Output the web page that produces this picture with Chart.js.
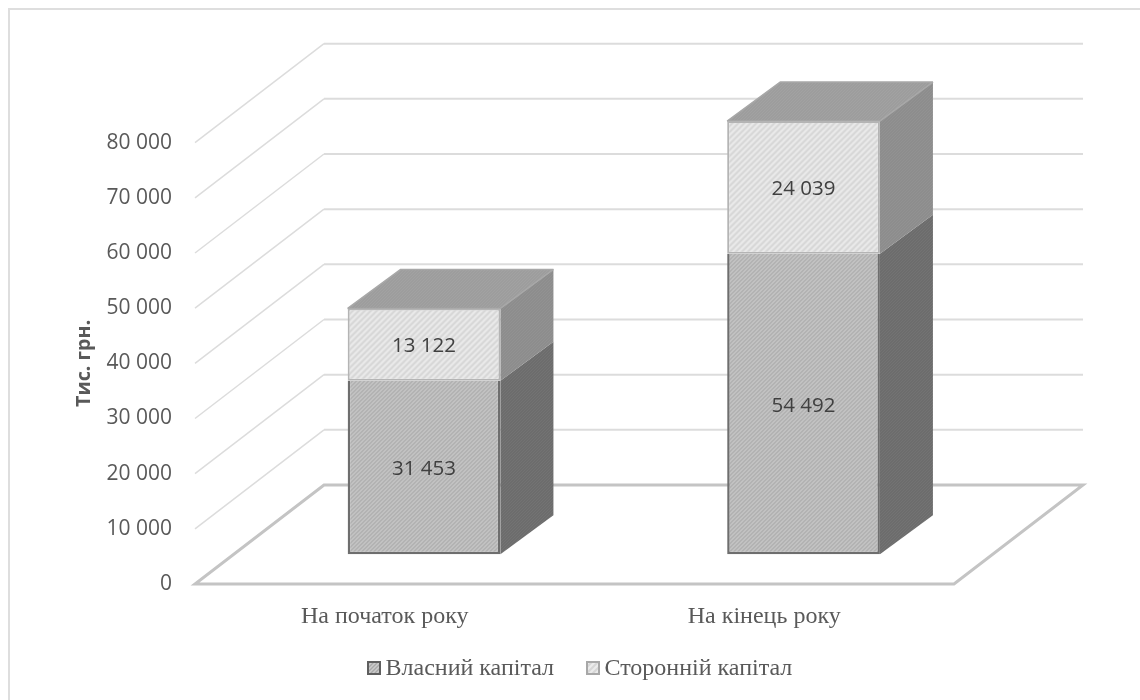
<!DOCTYPE html>
<html lang="uk">
<head>
<meta charset="utf-8">
<title>Капітал</title>
<script src="https://cdn.jsdelivr.net/npm/chart.js@4"></script>
<style>
    html, body { margin: 0; padding: 0; background: #fff; }
    canvas { display: block; }
</style>
</head>
<body>
<canvas id="myChart" width="1140" height="700"></canvas>
<script>
const categories = ['На початок року', 'На кінець року'];
const ownCapital = [31453, 54492];
const outsideCapital = [13122, 24039];
const seriesNames = ['Власний капітал', 'Сторонній капітал'];
const yTicks = [0, 10000, 20000, 30000, 40000, 50000, 60000, 70000, 80000];

// depth of the floor and of the boxes standing on it
const wall = { dx: 129, dy: -99 };
const barShift = { dx: 39.3, dy: -29.7 };
const barDepth = { dx: 53, dy: -39 };

const sansFont = '"Open Sans", sans-serif';
const serifFont = '"Liberation Serif", serif';

function spaced(v) {
    return String(v).replace(/\B(?=(\d{3})+$)/g, ' ');
}

// diagonal stripes, rising to the right
function hatch(back, stripe, size) {
    const tile = document.createElement('canvas');
    tile.width = size;
    tile.height = size;
    const c = tile.getContext('2d');
    c.fillStyle = back;
    c.fillRect(0, 0, size, size);
    c.strokeStyle = stripe;
    c.lineWidth = size / 3;
    [[0, size, size, 0], [-1, 1, 1, -1], [size - 1, size + 1, size + 1, size - 1]].forEach(l => {
        c.beginPath();
        c.moveTo(l[0], l[1]);
        c.lineTo(l[2], l[3]);
        c.stroke();
    });
    return c.createPattern(tile, 'repeat');
}

const fills = {
    own: hatch('#cccccc', '#a8a8a8', 4),
    outside: hatch('#ebebeb', '#d6d6d6', 6),
    ownSide: hatch('#757575', '#646464', 3),
    outsideSide: hatch('#949494', '#868686', 3),
    top: hatch('#a4a4a4', '#969696', 3)
};

function face(ctx, pts, fill, edge) {
    ctx.beginPath();
    ctx.moveTo(pts[0][0], pts[0][1]);
    pts.slice(1).forEach(p => ctx.lineTo(p[0], p[1]));
    ctx.closePath();
    ctx.fillStyle = fill;
    ctx.fill();
    if (edge) {
        ctx.strokeStyle = edge;
        ctx.lineWidth = 1.5;
        ctx.lineJoin = 'bevel';
        ctx.stroke();
    }
}

const box3d = {
    id: 'box3d',
    beforeDatasetsDraw(chart) {
        const ctx = chart.ctx;
        const area = chart.chartArea;
        const y = chart.scales.y;

        // frame lines along the top and left of the page
        ctx.save();
        ctx.strokeStyle = '#dedede';
        ctx.lineWidth = 2;
        ctx.beginPath();
        ctx.moveTo(1140, 9);
        ctx.lineTo(9, 9);
        ctx.lineTo(9, 700);
        ctx.stroke();

        // side wall and back wall lines for every tick above zero
        yTicks.slice(1).forEach(v => {
            const py = y.getPixelForValue(v);
            ctx.strokeStyle = '#dcdcdc';
            ctx.lineWidth = 1.5;
            ctx.beginPath();
            ctx.moveTo(area.left, py);
            ctx.lineTo(area.left + wall.dx, py + wall.dy);
            ctx.stroke();
            ctx.lineWidth = 2;
            ctx.beginPath();
            ctx.moveTo(area.left + wall.dx, py + wall.dy);
            ctx.lineTo(area.right + wall.dx, py + wall.dy);
            ctx.stroke();
        });

        // floor
        ctx.strokeStyle = '#c4c4c4';
        ctx.lineWidth = 3;
        ctx.lineJoin = 'miter';
        ctx.beginPath();
        ctx.moveTo(area.left, area.bottom);
        ctx.lineTo(area.right, area.bottom);
        ctx.lineTo(area.right + wall.dx, area.bottom + wall.dy);
        ctx.lineTo(area.left + wall.dx, area.bottom + wall.dy);
        ctx.closePath();
        ctx.stroke();

        // right side and top of the boxes, then the fronts come from the bars
        ctx.translate(barShift.dx, barShift.dy);
        chart.data.datasets.forEach((ds, i) => {
            const sideFill = i === 0 ? fills.ownSide : fills.outsideSide;
            chart.getDatasetMeta(i).data.forEach(bar => {
                const right = bar.x + bar.width / 2;
                const left = bar.x - bar.width / 2;
                face(ctx, [
                    [right, bar.base],
                    [right + barDepth.dx, bar.base + barDepth.dy],
                    [right + barDepth.dx, bar.y + barDepth.dy],
                    [right, bar.y]
                ], sideFill);
                if (i === chart.data.datasets.length - 1) {
                    face(ctx, [
                        [left, bar.y],
                        [right, bar.y],
                        [right + barDepth.dx, bar.y + barDepth.dy],
                        [left + barDepth.dx, bar.y + barDepth.dy]
                    ], fills.top, '#a8a8a8');
                }
            });
        });
        // fronts of the bars stay shifted until afterDatasetsDraw
    },
    afterDatasetsDraw(chart) {
        const ctx = chart.ctx;
        // value labels in the middle of each front
        ctx.font = '20.5px ' + sansFont;
        ctx.fillStyle = '#404040';
        ctx.textAlign = 'center';
        ctx.textBaseline = 'middle';
        chart.data.datasets.forEach((ds, i) => {
            chart.getDatasetMeta(i).data.forEach((bar, j) => {
                ctx.fillText(spaced(ds.data[j]), bar.x, (bar.y + bar.base) / 2 + 2);
            });
        });
        ctx.restore();

        // legend
        const items = [
            { x: 368, text: seriesNames[0], fill: fills.own, edge: '#5f5f5f' },
            { x: 587, text: seriesNames[1], fill: fills.outside, edge: '#a8a8a8' }
        ];
        ctx.save();
        ctx.font = '24px ' + serifFont;
        ctx.textBaseline = 'middle';
        ctx.textAlign = 'left';
        items.forEach(it => {
            ctx.fillStyle = it.fill;
            ctx.fillRect(it.x, 662, 12, 12);
            ctx.strokeStyle = it.edge;
            ctx.lineWidth = 2;
            ctx.strokeRect(it.x, 662, 12, 12);
            ctx.fillStyle = '#595959';
            ctx.fillText(it.text, it.x + 17.5, 669);
        });
        ctx.restore();
    }
};

const data = {
    labels: categories,
    datasets: [{
        label: seriesNames[0],
        data: ownCapital,
        backgroundColor: fills.own,
        borderColor: '#6e6e6e',
        borderWidth: 2.5,
        borderSkipped: 'top',
        clip: false
    }, {
        label: seriesNames[1],
        data: outsideCapital,
        backgroundColor: fills.outside,
        borderColor: '#b4b4b4',
        borderWidth: 2,
        borderSkipped: false,
        clip: false
    }]
};

const config = {
    type: 'bar',
    data: data,
    plugins: [box3d],
    options: {
        responsive: false,
        animation: false,
        layout: {
            padding: { left: 60, right: 186, top: 142.7, bottom: 66 }
        },
        datasets: {
            bar: { barPercentage: 1, categoryPercentage: 0.4025 }
        },
        scales: {
            x: {
                stacked: true,
                afterFit: s => { s.height = 50; },
                grid: { display: false },
                border: { display: false },
                ticks: {
                    padding: 10,
                    color: '#595959',
                    font: { family: serifFont, size: 24 }
                }
            },
            y: {
                stacked: true,
                min: 0,
                max: 80000,
                afterFit: s => { s.width = 135; },
                afterBuildTicks: s => { s.ticks = yTicks.map(v => ({ value: v })); },
                grid: { display: false, drawTicks: false },
                border: { display: false },
                title: {
                    display: true,
                    text: 'Тис. грн.',
                    color: '#595959',
                    font: { family: sansFont, size: 19.8, weight: 'bold' },
                    padding: { top: 12, bottom: 0 }
                },
                ticks: {
                    padding: 23,
                    color: '#595959',
                    font: { family: sansFont, size: 21 },
                    callback: v => spaced(v)
                }
            }
        },
        plugins: {
            legend: { display: false },
            tooltip: { enabled: false }
        }
    }
};

new Chart(document.getElementById('myChart'), config);
</script>
</body>
</html>
